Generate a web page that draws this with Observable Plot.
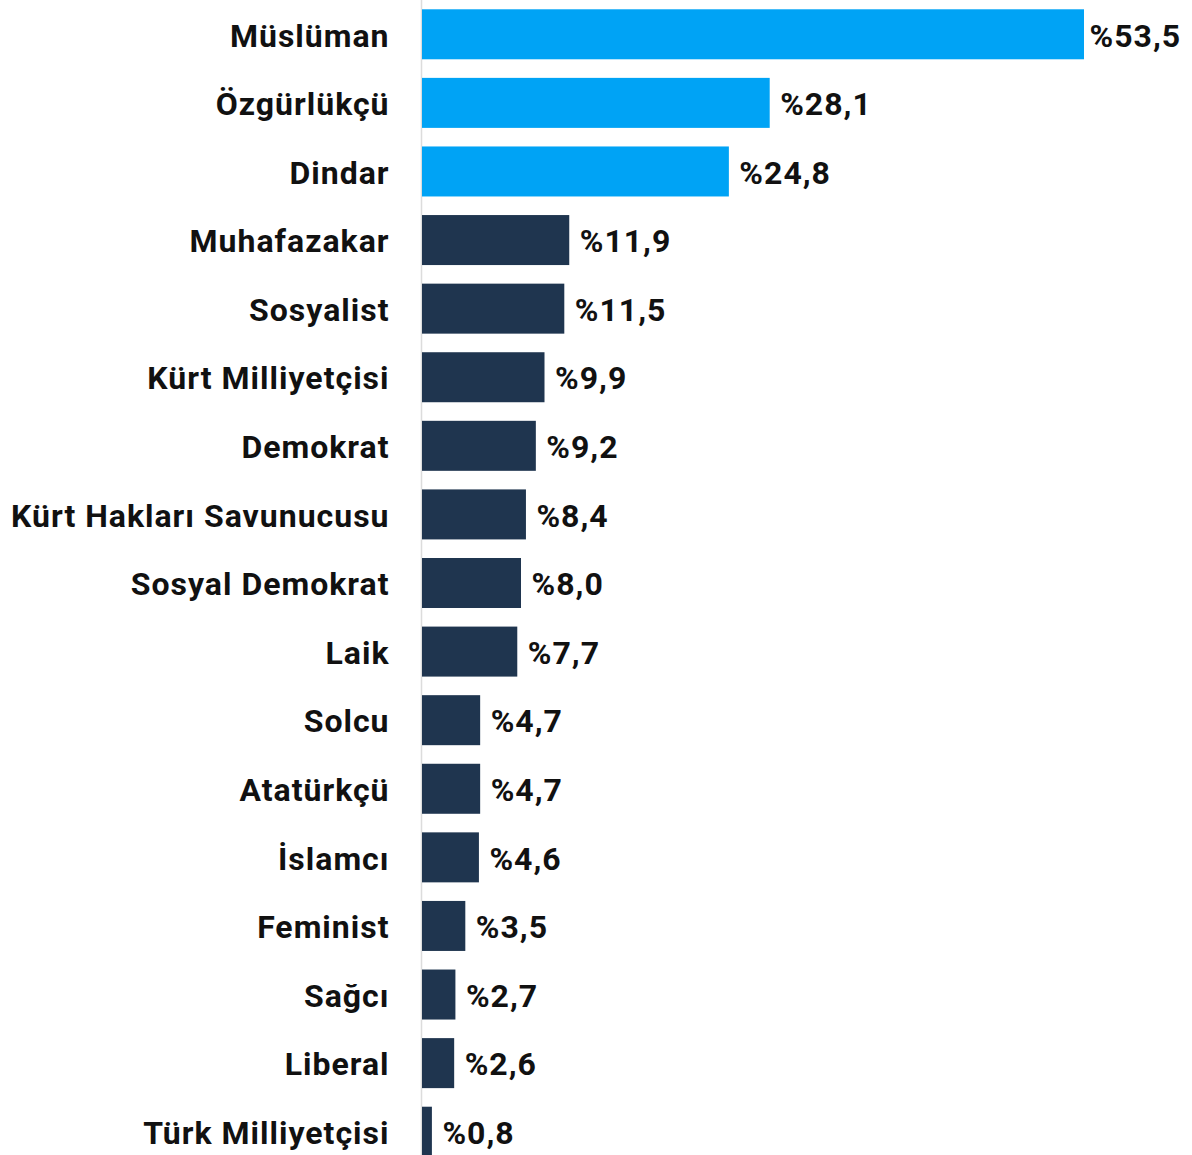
<!DOCTYPE html>
<html>
<head>
<meta charset="utf-8">
<script src="https://cdn.jsdelivr.net/npm/d3@7"></script>
<script src="https://cdn.jsdelivr.net/npm/@observablehq/plot@0.6"></script>
<style>
  html, body { margin: 0; padding: 0; background: #fff; overflow: hidden; }
  #chart svg { display: block; }
  #chart svg text { letter-spacing: 1px; }
</style>
</head>
<body>
<div id="chart"></div>
<script>
const categories = ["Müslüman","Özgürlükçü","Dindar","Muhafazakar","Sosyalist","Kürt Milliyetçisi","Demokrat","Kürt Hakları Savunucusu","Sosyal Demokrat","Laik","Solcu","Atatürkçü","İslamcı","Feminist","Sağcı","Liberal","Türk Milliyetçisi"];
const values = [53.5,28.1,24.8,11.9,11.5,9.9,9.2,8.4,8.0,7.7,4.7,4.7,4.6,3.5,2.7,2.6,0.8];
const highlight = ["Müslüman","Özgürlükçü","Dindar"];

const data = categories.map((c, i) => ({category: c, value: values[i], hi: highlight.includes(c)}));
const fmt = v => "%" + v.toFixed(1).replace(".", ",");
const FONT = "Roboto, 'DejaVu Sans', sans-serif";
const maxV = d3.max(values);

const chart = Plot.plot({
  width: 1192,
  height: 1155,
  marginLeft: 422,
  marginRight: 108,
  marginTop: 0,
  marginBottom: 0,
  style: {fontFamily: FONT, background: "#fff"},
  x: {domain: [0, 53.5], axis: null},
  y: {domain: categories, range: [-9.3, 1175.3], padding: 0.271, round: false, label: null},
  marks: [
    Plot.ruleX([0], {stroke: "#dcdcdc", strokeWidth: 1.5, dx: -1}),
    Plot.barX(data, {x: "value", y: "category", fill: d => d.hi ? "#00a3f5" : "#1f354f"}),
    Plot.text(data.filter(d => d.value === maxV), {x: "value", y: "category", text: d => fmt(d.value), textAnchor: "start", dx: 5, dy: 1.5, fontSize: 32, fontWeight: "bold", fill: "#111"}),
    Plot.text(data.filter(d => d.value !== maxV), {x: "value", y: "category", text: d => fmt(d.value), textAnchor: "start", dx: 10, dy: 1.5, fontSize: 32, fontWeight: "bold", fill: "#111"}),
    Plot.axisY({tickSize: 0, tickPadding: 33, dy: 1.5, fontSize: 32, fontWeight: "bold", color: "#111", label: null})
  ]
});
chart.querySelectorAll("g[aria-label='y-axis tick label']").forEach(el => {
  el.setAttribute("font-weight", "bold");
  el.setAttribute("font-size", 32);
});
document.getElementById("chart").append(chart);
</script>
</body>
</html>
